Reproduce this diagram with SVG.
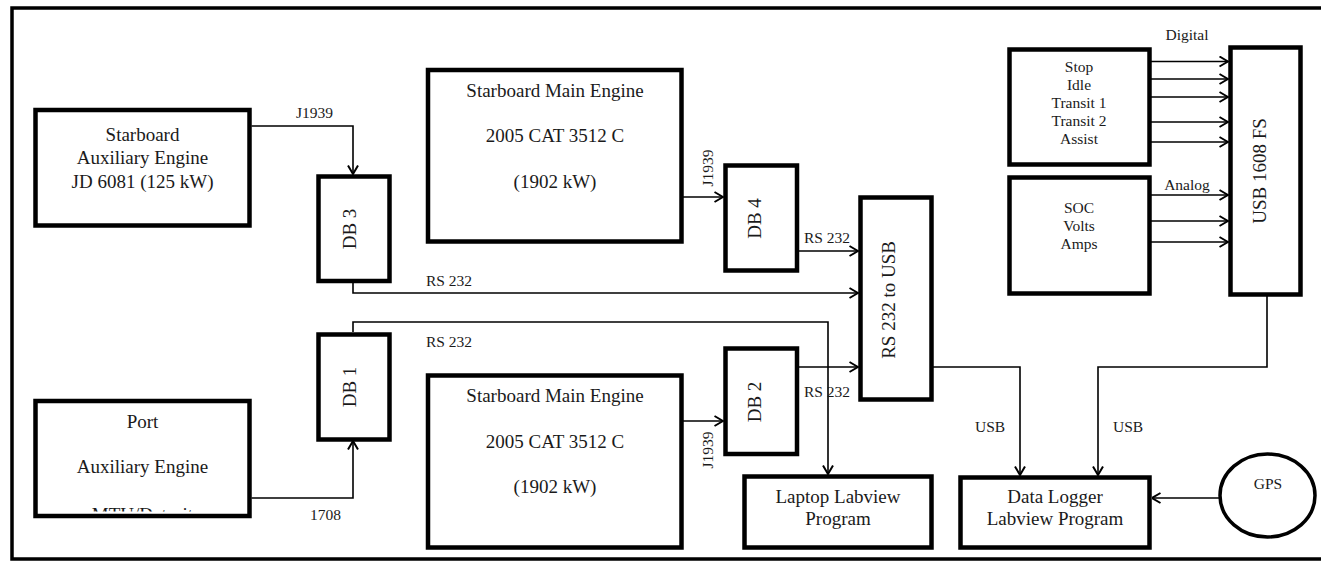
<svg xmlns="http://www.w3.org/2000/svg" width="1321" height="562" viewBox="0 0 1321 562">
<style>
.box{fill:#fff;stroke:#000;stroke-width:4.5}
.frame{fill:none;stroke:#000;stroke-width:3.5}
.con{fill:none;stroke:#000;stroke-width:1.6}
.t{font-family:"Liberation Serif","Times New Roman",serif;font-size:19px;fill:#1a1a1a;text-anchor:middle}
.s{font-family:"Liberation Serif","Times New Roman",serif;font-size:15.5px;fill:#1a1a1a}
.m{font-family:"Liberation Serif","Times New Roman",serif;font-size:15.5px;fill:#1a1a1a;text-anchor:middle}
</style>
<defs>
<marker id="arr" viewBox="0 0 10 12" refX="9.5" refY="6" markerWidth="10" markerHeight="12" markerUnits="userSpaceOnUse" orient="auto">
<path d="M1,1 L9.5,6 L1,11" fill="none" stroke="#000" stroke-width="2"/>
</marker>
<clipPath id="portclip"><rect x="38" y="403" width="209" height="108.5"/></clipPath>
</defs>
<rect width="1321" height="562" fill="#fff"/>
<path class="frame" d="M1325,8 H12 V559 H1325"/>

<g id="connectors">
<path class="con" d="M251.5,126 H353 V174" marker-end="url(#arr)"/>
<path class="con" d="M353,283 V293 H858" marker-end="url(#arr)"/>
<path class="con" d="M353,332 V322 H828 V474" marker-end="url(#arr)"/>
<path class="con" d="M251.5,498 H353 V441" marker-end="url(#arr)"/>
<path class="con" d="M683,197 H723" marker-end="url(#arr)"/>
<path class="con" d="M683,421 H723" marker-end="url(#arr)"/>
<path class="con" d="M799,251 H858" marker-end="url(#arr)"/>
<path class="con" d="M799,367 H858" marker-end="url(#arr)"/>
<path class="con" d="M933,367 H1020 V475" marker-end="url(#arr)"/>
<path class="con" d="M1267,296 V367 H1098 V475" marker-end="url(#arr)"/>
<path class="con" d="M1220,498 H1152" marker-end="url(#arr)"/>
<path class="con" d="M1151,61.5 H1228" marker-end="url(#arr)"/>
<path class="con" d="M1151,79 H1228" marker-end="url(#arr)"/>
<path class="con" d="M1151,97 H1228" marker-end="url(#arr)"/>
<path class="con" d="M1151,122 H1228" marker-end="url(#arr)"/>
<path class="con" d="M1151,142 H1228" marker-end="url(#arr)"/>
<path class="con" d="M1151,195 H1228" marker-end="url(#arr)"/>
<path class="con" d="M1151,221 H1228" marker-end="url(#arr)"/>
<path class="con" d="M1151,242 H1228" marker-end="url(#arr)"/>
<text class="s" x="296" y="118">J1939</text>
<text class="s" x="426" y="286">RS 232</text>
<text class="s" x="426" y="347">RS 232</text>
<text class="s" x="310" y="520">1708</text>
<text class="s" transform="translate(713,168) rotate(-90)" text-anchor="middle">J1939</text>
<text class="s" transform="translate(713,450) rotate(-90)" text-anchor="middle">J1939</text>
<text class="s" x="804" y="243">RS 232</text>
<text class="s" x="804" y="397">RS 232</text>
<text class="s" x="975" y="432">USB</text>
<text class="s" x="1113" y="432">USB</text>
<text class="m" x="1187" y="40">Digital</text>
<text class="m" x="1187" y="190">Analog</text>
</g>

<g id="stbd-aux">
<rect class="box" x="35.5" y="110" width="214" height="115.5"/>
<text class="t" x="142.5" y="141">Starboard</text>
<text class="t" x="142.5" y="164">Auxiliary Engine</text>
<text class="t" x="142.5" y="188">JD 6081 (125 kW)</text>
</g>

<g id="port-aux">
<rect class="box" x="35.5" y="401" width="214" height="115"/>
<text class="t" x="142.5" y="428">Port</text>
<text class="t" x="142.5" y="473">Auxiliary Engine</text>
<text class="t" x="142.5" y="521" clip-path="url(#portclip)">MTU/Detroit</text>
</g>

<g id="db3">
<rect class="box" x="318.5" y="176.5" width="71" height="104.5"/>
<text class="t" transform="translate(356,229) rotate(-90)">DB 3</text>
</g>

<g id="db1">
<rect class="box" x="318.5" y="334.5" width="71" height="105"/>
<text class="t" transform="translate(356,387) rotate(-90)">DB 1</text>
</g>

<g id="stbd-main-top">
<rect class="box" x="428" y="70" width="253.5" height="171.5"/>
<text class="t" x="555" y="97">Starboard Main Engine</text>
<text class="t" x="555" y="142">2005 CAT 3512 C</text>
<text class="t" x="555" y="188">(1902 kW)</text>
</g>

<g id="stbd-main-bottom">
<rect class="box" x="428" y="375.5" width="253.5" height="172"/>
<text class="t" x="555" y="402">Starboard Main Engine</text>
<text class="t" x="555" y="448">2005 CAT 3512 C</text>
<text class="t" x="555" y="493">(1902 kW)</text>
</g>

<g id="db4">
<rect class="box" x="725.5" y="165.5" width="71.5" height="105"/>
<text class="t" transform="translate(761,218.5) rotate(-90)">DB 4</text>
</g>

<g id="db2">
<rect class="box" x="725.5" y="348.5" width="71.5" height="105.5"/>
<text class="t" transform="translate(761,402) rotate(-90)">DB 2</text>
</g>

<g id="rs232-usb">
<rect class="box" x="860.5" y="197.5" width="71" height="202"/>
<text class="t" transform="translate(895,300) rotate(-90)">RS 232 to USB</text>
</g>

<g id="laptop">
<rect class="box" x="744.5" y="476.5" width="187" height="71"/>
<text class="t" x="838" y="503">Laptop Labview</text>
<text class="t" x="838" y="525">Program</text>
</g>

<g id="datalogger">
<rect class="box" x="960.5" y="477.5" width="189" height="70"/>
<text class="t" x="1055" y="503">Data Logger</text>
<text class="t" x="1055" y="525">Labview Program</text>
</g>

<g id="digital">
<rect class="box" x="1009.5" y="49.5" width="140" height="115"/>
<text class="m" x="1079" y="72">Stop</text>
<text class="m" x="1079" y="90">Idle</text>
<text class="m" x="1079" y="108">Transit 1</text>
<text class="m" x="1079" y="126">Transit 2</text>
<text class="m" x="1079" y="144">Assist</text>
</g>

<g id="analog">
<rect class="box" x="1009.5" y="177.5" width="140" height="116"/>
<text class="m" x="1079" y="213">SOC</text>
<text class="m" x="1079" y="231">Volts</text>
<text class="m" x="1079" y="249">Amps</text>
</g>

<g id="usb1608">
<rect class="box" x="1230.5" y="47.5" width="70" height="247"/>
<text class="t" transform="translate(1266,171) rotate(-90)">USB 1608 FS</text>
</g>

<g id="gps">
<ellipse cx="1267.5" cy="495.5" rx="47.5" ry="41.5" fill="#fff" stroke="#000" stroke-width="3.5"/>
<text class="m" x="1268" y="489">GPS</text>
</g>
</svg>
